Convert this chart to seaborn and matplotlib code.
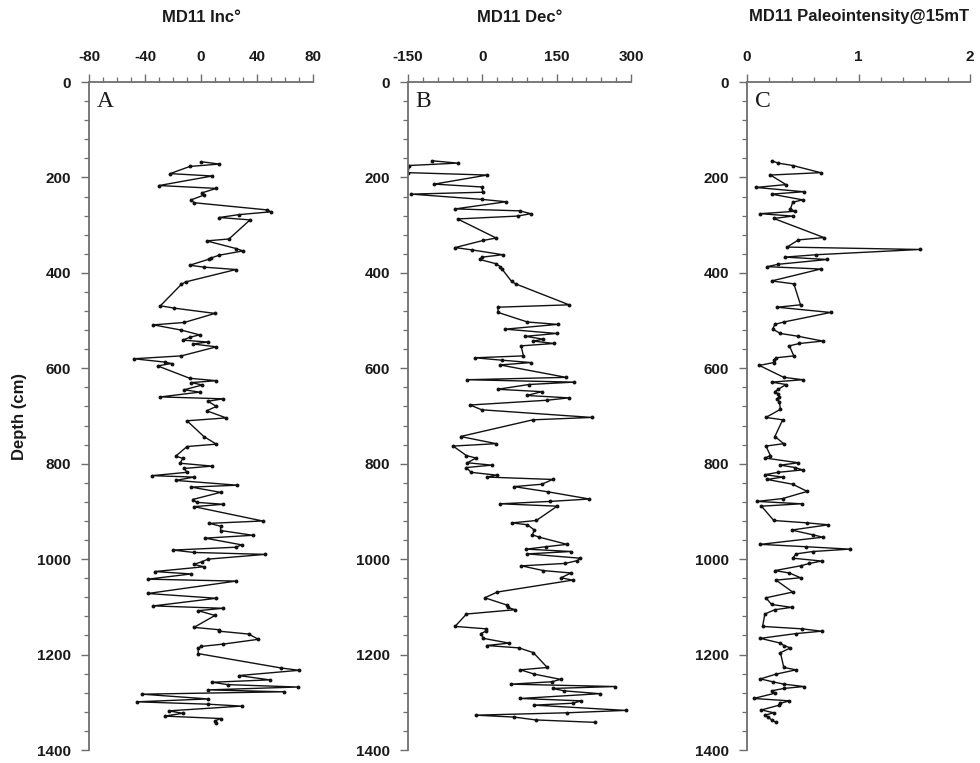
import numpy as np
import pandas as pd
import matplotlib
matplotlib.use("Agg")
import matplotlib.pyplot as plt
import seaborn as sns
from matplotlib.ticker import MultipleLocator

# ---------------- data ----------------
depth_inc = [167, 172, 177, 192, 197, 217, 223, 232, 237, 247, 253, 268, 272, 278, 284, 289,
             329, 333, 349, 354, 363, 369, 371, 384, 388, 393, 419, 424, 469, 474, 485, 504,
             509, 520, 530, 535, 541, 545, 549, 555, 574, 580, 587, 590, 595, 621, 626, 630,
             635, 645, 650, 660, 664, 669, 680, 689, 704, 710, 743, 759, 764, 784, 789, 799,
             805, 810, 818, 825, 828, 835, 845, 849, 860, 875, 881, 885, 890, 920, 925, 931,
             940, 950, 956, 970, 975, 981, 986, 990, 1000, 1005, 1011, 1016, 1026, 1031, 1042,
             1046, 1072, 1082, 1098, 1103, 1108, 1118, 1143, 1148, 1151, 1157, 1168, 1178, 1183,
             1187, 1198, 1228, 1233, 1244, 1253, 1258, 1263, 1268, 1274, 1278, 1283, 1293, 1299,
             1304, 1308, 1318, 1323, 1329, 1334, 1339, 1343]
inc = [0, 13, -8, -22, 8, -30, 11, 1, 2, -7, -5, 47, 50, 27, 13, 35,
       20, 4, 25, 30, 13, 7, 6, -8, 2, 25, -11, -14, -29, -19, 10, -12,
       -34, -14, -1, -8, -13, 5, -6, 11, -14, -48, -26, -21, -31, -8, 11, -7,
       1, -12, -1, -29, 16, 5, 11, 4, 18, -10, 2, 11, -10, -18, -13, -15,
       8, -12, -10, -35, -5, -18, 26, -7, 14, -6, -3, 16, -5, 44, 6, 14,
       14, 37, 3, 29, 25, -20, -5, 46, 5, 1, -5, 2, -33, -7, -38,
       25, -38, 11, -34, 16, -2, 10, -5, 13, 13, 34, 41, 16, 0,
       -2, -2, 57, 70, 27, 49, 8, 19, 69, 5, 59, -42, 5, -46,
       5, 29, -23, -13, -26, 14, 10, 11]

depth_dec = [165, 170, 175, 190, 195, 214, 220, 231, 235, 246, 251, 266, 270, 276, 281, 287,
             327, 332, 347, 352, 362, 367, 372, 381, 387, 391, 418, 423, 467, 472, 483, 503,
             508, 518, 527, 533, 539, 543, 548, 553, 574, 578, 583, 588, 593, 619, 624, 629,
             634, 644, 649, 657, 662, 667, 677, 687, 703, 708, 743, 758, 763, 783, 788, 798,
             803, 808, 818, 824, 828, 833, 843, 848, 859, 874, 879, 884, 889, 919, 924, 928,
             939, 949, 954, 969, 974, 979, 984, 989, 998, 1003, 1009, 1014, 1024, 1029, 1039,
             1044, 1069, 1081, 1096, 1101, 1106, 1115, 1141, 1146, 1151, 1156, 1166, 1176, 1181,
             1186, 1196, 1227, 1232, 1241, 1252, 1257, 1262, 1267, 1271, 1276, 1282, 1292, 1297,
             1302, 1306, 1317, 1322, 1327, 1331, 1337, 1342]
dec = [-102, -50, -147, -150, 10, -97, -1, 1, -143, -1, 48, -55, 75, 98, 71, -50,
       28, 2, -55, -20, 41, 0, -5, 28, 36, 39, 59, 67, 175, 31, 32, 91,
       152, 46, 150, 87, 123, 103, 145, 78, 83, -15, 39, 98, 36, 169, -31, 185,
       94, 31, 120, 90, 175, 130, -25, -1, 221, 102, -44, 28, -59, -32, -13, -30,
       19, -32, -23, 29, 9, 142, 120, 64, 133, 216, 137, 36, 151, 109, 60, 91,
       105, 101, 115, 171, 128, 89, 179, 91, 197, 192, 167, 79, 123, 179, 159,
       182, 30, 5, 49, 51, 66, -32, -55, 7, 7, -3, 2, 54, 9,
       74, 103, 131, 77, 105, 158, 140, 58, 268, 142, 165, 237, 77, 200,
       182, 105, 289, 171, -13, 64, 108, 227]

depth_pi = [165, 170, 175, 190, 195, 215, 221, 230, 235, 247, 252, 266, 271, 276, 281, 286,
            326, 331, 346, 351, 362, 367, 372, 382, 387, 392, 417, 423, 467, 472, 483, 503,
            508, 518, 527, 533, 543, 548, 553, 574, 578, 583, 588, 594, 619, 624, 629, 634,
            644, 649, 654, 660, 664, 670, 686, 703, 708, 743, 758, 763, 783, 788, 798, 803,
            808, 813, 818, 823, 828, 833, 843, 858, 873, 879, 884, 889, 919, 924, 928, 939,
            949, 954, 969, 974, 979, 984, 989, 998, 1004, 1009, 1014, 1024, 1029, 1039, 1044,
            1069, 1081, 1095, 1101, 1106, 1115, 1141, 1146, 1151, 1156, 1166, 1176, 1181, 1186,
            1196, 1227, 1232, 1241, 1251, 1257, 1262, 1267, 1271, 1276, 1281, 1292, 1297, 1302,
            1306, 1316, 1322, 1327, 1331, 1337, 1342]
pint = [0.22, 0.28, 0.41, 0.66, 0.21, 0.35, 0.08, 0.51, 0.22, 0.50, 0.41, 0.39, 0.43, 0.12, 0.41, 0.24,
        0.69, 0.46, 0.36, 1.55, 0.62, 0.34, 0.72, 0.28, 0.18, 0.66, 0.22, 0.42, 0.48, 0.27, 0.75, 0.33,
        0.25, 0.23, 0.30, 0.46, 0.68, 0.47, 0.38, 0.42, 0.26, 0.24, 0.24, 0.11, 0.33, 0.50, 0.22, 0.35,
        0.28, 0.25, 0.28, 0.29, 0.27, 0.29, 0.30, 0.17, 0.32, 0.25, 0.33, 0.17, 0.21, 0.16, 0.46, 0.30,
        0.43, 0.50, 0.28, 0.16, 0.32, 0.18, 0.41, 0.54, 0.32, 0.09, 0.49, 0.13, 0.24, 0.54, 0.73, 0.40,
        0.59, 0.68, 0.12, 0.53, 0.92, 0.59, 0.44, 0.41, 0.67, 0.56, 0.48, 0.25, 0.38, 0.48, 0.26,
        0.41, 0.17, 0.22, 0.40, 0.25, 0.16, 0.14, 0.49, 0.67, 0.44, 0.12, 0.30, 0.33, 0.39,
        0.30, 0.33, 0.44, 0.26, 0.12, 0.23, 0.33, 0.51, 0.33, 0.22, 0.25, 0.06, 0.38, 0.30,
        0.29, 0.13, 0.24, 0.16, 0.19, 0.22, 0.26]

titles = ["MD11 Inc°", "MD11 Dec°", "MD11 Paleointensity@15mT"]
letters = ["A", "B", "C"]
ylabel = "Depth (cm)"

# ---------------- style ----------------
sns.set_style("ticks")
plt.rcParams["font.family"] = ["Liberation Sans", "DejaVu Sans"]

W, H = 980, 763
fig = plt.figure(figsize=(W / 100, H / 100), dpi=100)
fig.patch.set_facecolor("white")

TOP, BOT = 82, 750
spine_col = "#6e6e6e"

specs = [
    (89, 313, depth_inc, inc, (-80, 80), 40, 10),
    (408, 631, depth_dec, dec, (-150, 300), 150, 30),
    (747, 970, depth_pi, pint, (0, 2), 1, 0.2),
]

for i, (x0, x1, dep, vals, xlim, maj, mnr) in enumerate(specs):
    ax = fig.add_axes([x0 / W, 1 - BOT / H, (x1 - x0) / W, (BOT - TOP) / H])
    df = pd.DataFrame({"val": vals, "depth": dep})
    sns.lineplot(data=df, x="val", y="depth", sort=False, estimator=None,
                 color="#111111", linewidth=1.0, marker="o", markersize=2.8,
                 markeredgewidth=0, ax=ax)
    ax.set_xlim(*xlim)
    ax.set_ylim(1400, 0)
    ax.xaxis.tick_top()
    ax.xaxis.set_major_locator(MultipleLocator(maj))
    ax.xaxis.set_minor_locator(MultipleLocator(mnr))
    ax.yaxis.set_major_locator(MultipleLocator(200))
    ax.yaxis.set_minor_locator(MultipleLocator(40))
    for s in ["right", "bottom"]:
        ax.spines[s].set_visible(False)
    for s in ["left", "top"]:
        ax.spines[s].set_color(spine_col)
        ax.spines[s].set_linewidth(1.3)
    ax.tick_params(which="major", length=6, width=1, color=spine_col,
                   labelsize=11, pad=7, labelcolor="#1a1a1a")
    ax.tick_params(which="minor", length=3.5, width=0.9, color=spine_col)
    ax.tick_params(axis="x", which="both", top=True, bottom=False)
    if i == 1:
        ax.set_xticks([-150, 0, 150, 300])
    ax.set_xticklabels([("%g" % t) for t in ax.get_xticks()], fontweight="bold")
    ax.set_yticks(list(range(0, 1401, 200)))
    ax.set_yticklabels([str(t) for t in range(0, 1401, 200)], fontweight="bold")
    ax.set_xlabel("")
    ax.set_ylabel("")
    ax.text(0.035, 0.987, letters[i], transform=ax.transAxes, ha="left", va="top",
            fontsize=17, family="Liberation Serif", color="#1a1a1a")
    fig.text((x0 + x1) / 2 / W, 1 - 17 / H, titles[i], ha="center", va="center",
             fontsize=12, fontweight="bold", color="#1a1a1a")

fig.text(20 / W, 1 - 416 / H, ylabel, rotation=90, ha="center", va="center",
         fontsize=12, fontweight="bold", color="#1a1a1a")

fig.savefig("out.png", dpi=100, facecolor="white")
